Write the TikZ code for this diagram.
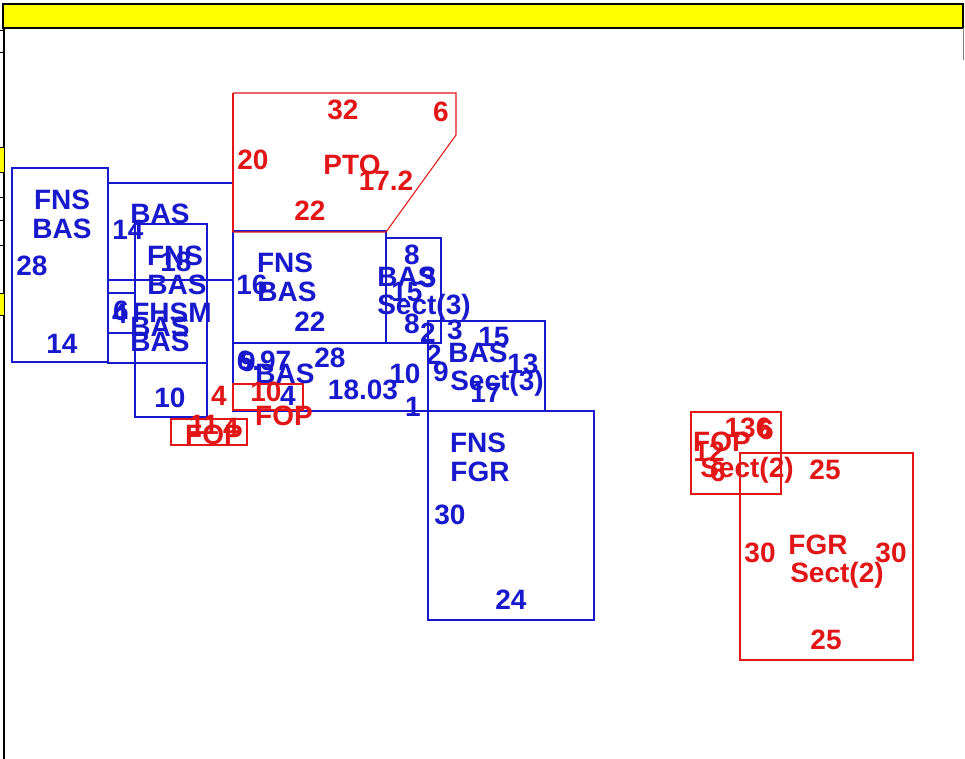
\documentclass[tikz,border=0pt]{standalone}
\usepackage{fontspec}
\setmainfont{Liberation Sans}
\definecolor{myblue}{RGB}{24,24,205}
\definecolor{myred}{RGB}{226,22,22}
\definecolor{myyellow}{RGB}{255,255,0}
\tikzset{
  lbl/.style={font=\fontsize{21}{25}\bfseries\selectfont, inner sep=0pt},
  bt/.style={lbl, text=myblue},
  rt/.style={lbl, text=myred},
  bbox/.style={draw=myblue, line width=0.8pt},
  rbox/.style={draw=myred, line width=0.8pt},
  frame/.style={draw=black, line width=0.9pt},
}
\begin{document}
\begin{tikzpicture}[x=0.75pt, y=-0.75pt]
\useasboundingbox (0,0) rectangle (965,759);
\fill[white] (0,0) rectangle (965,759);

% title bar and page frame
\draw[frame, fill=myyellow] (3,4) rectangle (963,28);
\draw[frame] (4,28) -- (4,759);
\draw[gray, line width=0.6pt] (963,28) -- (963,60);
% clipped table rows at the left edge
\fill[myyellow] (0,147) rectangle (4,172);
\fill[myyellow] (0,293) rectangle (4,315);
\foreach \yy in {30,52,147,172,197,220,245,293,315}
  \draw[frame, line width=0.6pt] (0,\yy) -- (4,\yy);

% ---------- blue sections ----------
\draw[bbox] (12,168) rectangle (108,362);
\draw[bbox] (108,183) rectangle (233,280);
\draw[bbox] (108,280) -- (108,363) -- (207,363);
\draw[bbox] (108,293) -- (135,293);
\draw[bbox] (108,333) -- (135,333);
\draw[bbox] (135,224) rectangle (207,417);
\draw[bbox] (233,280) -- (233,343);
\draw[bbox] (233,231) rectangle (386,343);
\draw[bbox] (386,238) rectangle (441,343);
\draw[bbox] (233,343) rectangle (428,411);
\draw[bbox] (303,385) -- (303,411);
\draw[bbox] (428,321) rectangle (545,411);
\draw[bbox] (428,411) rectangle (594,620);

% ---------- red sections ----------
\draw[rbox] (233,93) -- (456,93) -- (456,135) -- (386,232) -- (233,232);
\draw[rbox] (233,232) -- (233,93);
\draw[rbox] (233,384) rectangle (303,410);
\draw[rbox] (171,419) rectangle (247,445);
\draw[rbox] (691,412) rectangle (781,494);
\draw[rbox] (740,453) rectangle (913,660);

% ---------- blue labels ----------
\node[bt] (a1) at (62,200) {FNS};
\node[bt] (a2) at (62,229) {BAS};
\node[bt] (a3) at (32,266) {28};
\node[bt] (a4) at (62,344) {14};

\node[bt] (b1) at (160,214) {BAS};
\node[bt] (b2) at (128,230) {14};

\node[bt] (c1) at (175,256) {FNS};
\node[bt] (c2) at (176,262) {18};
\node[bt] (c3) at (177,285) {BAS};
\node[bt] (c4) at (170,398) {10};

\node[bt] (d1) at (121,311) {6};
\node[bt] (d2) at (120,314) {4};
\node[bt] (d3) at (172,313) {FHSM};
\node[bt] (d4) at (160,327) {BAS};
\node[bt] (d5) at (160,342) {BAS};

\node[bt] (e1) at (285,263) {FNS};
\node[bt] (e2) at (252,285) {16};
\node[bt] (e3) at (287,292) {BAS};
\node[bt] (e4) at (310,322) {22};

\node[bt] (f1) at (412,255) {8};
\node[bt] (f2) at (407,277) {BAS};
\node[bt] (f3) at (428,278) {3};
\node[bt] (f4) at (407,292) {15};
\node[bt] (f5) at (424,307) {Sect(3)};
\node[bt] (f6) at (412,324) {8};
\node[bt] (f7) at (428,333) {2};

\node[bt] (g1) at (455,330) {3};
\node[bt] (g2) at (494,337) {15};
\node[bt] (g3) at (434,355) {2};
\node[bt] (g4) at (478,353) {BAS};
\node[bt] (g5) at (523,364) {13};
\node[bt] (g6) at (441,372) {9};
\node[bt] (g7) at (497,383) {Sect(3)};
\node[bt] (g8) at (486,393) {17};

\node[bt] (h1) at (248,362) {9};
\node[bt] (h2) at (264,361) {6.97};
\node[bt] (h3) at (285,374) {BAS};
\node[bt] (h4) at (330,358) {28};
\node[bt] (h5) at (363,390) {18.03};
\node[bt] (h6) at (405,374) {10};
\node[bt] (h7) at (413,407) {1};
\node[bt] (h8) at (288,396) {4};

\node[bt] (k1) at (478,443) {FNS};
\node[bt] (k2) at (480,472) {FGR};
\node[bt] (k3) at (450,515) {30};
\node[bt] (k4) at (511,600) {24};

% ---------- red labels ----------
\node[rt] (p1) at (343,110) {32};
\node[rt] (p2) at (441,112) {6};
\node[rt] (p3) at (253,160) {20};
\node[rt] (p4) at (352,165) {PTO};
\node[rt] (p5) at (386,181) {17.2};
\node[rt] (p6) at (310,211) {22};

\node[rt] (q1) at (219,396) {4};
\node[rt] (q2) at (266,392) {10};
\node[rt] (q3) at (284,416) {FOP};
\node[rt] (q4) at (204,425) {11};
\node[rt] (q5) at (231,428) {4};
\node[rt] (q6) at (214,435) {FOP};

\node[rt] (s1) at (748,428) {136};
\node[rt] (s2) at (766,430) {6};
\node[rt] (s3) at (722,442) {FOP};
\node[rt] (s4) at (709,452) {12};
\node[rt] (s5) at (718,472) {6};
\node[rt] (s6) at (747,470) {Sect(2)};
\node[rt] (s7) at (825,470) {25};

\node[rt] (u1) at (760,553) {30};
\node[rt] (u2) at (818,545) {FGR};
\node[rt] (u3) at (837,575) {Sect(2)};
\node[rt] (u4) at (891,553) {30};
\node[rt] (u5) at (826,640) {25};
\end{tikzpicture}
\end{document}
